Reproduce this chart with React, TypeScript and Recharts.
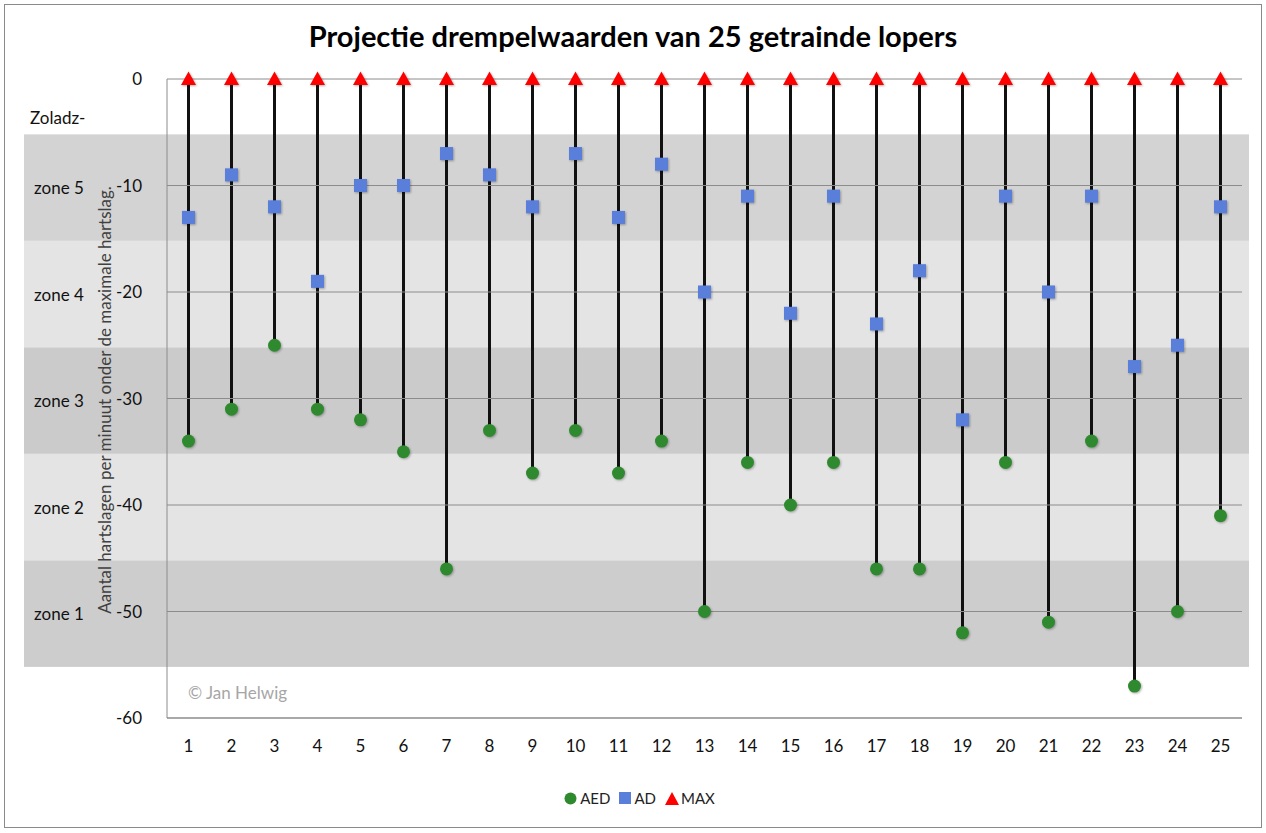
import React from 'react';
import { ComposedChart, Bar, Scatter, XAxis, YAxis, ReferenceArea, ReferenceLine, Legend } from 'recharts';

const runners = ['1','2','3','4','5','6','7','8','9','10','11','12','13','14','15','16','17','18','19','20','21','22','23','24','25'];
const aedValues = [-34,-31,-25,-31,-32,-35,-46,-33,-37,-33,-37,-34,-50,-36,-40,-36,-46,-46,-52,-36,-51,-34,-57,-50,-41];
const adValues = [-13,-9,-12,-19,-10,-10,-7,-9,-12,-7,-13,-8,-20,-11,-22,-11,-23,-18,-32,-11,-20,-11,-27,-25,-12];
const maxValues = [0,0,0,0,0,0,0,0,0,0,0,0,0,0,0,0,0,0,0,0,0,0,0,0,0];
const yTicks = [0,-10,-20,-30,-40,-50,-60];
const zoneNames = ['zone 5','zone 4','zone 3','zone 2','zone 1'];
const zoneTops = [-5.2,-15.2,-25.2,-35.2,-45.2];
const zoneBottoms = [-15.2,-25.2,-35.2,-45.2,-55.2];
const zoneFills = ['#d3d3d3','#e4e4e4','#cbcbcb','#e4e4e4','#cdcdcd'];

const data = runners.map((r, i) => ({
  runner: r,
  aed: aedValues[i],
  ad: adValues[i],
  max: maxValues[i],
  stem: [aedValues[i], maxValues[i]],
}));

const FONT = 'Lato, "Open Sans", sans-serif';
const GREEN = '#2f8a2f';
const BLUE = '#5a7fdb';
const RED = '#ff0000';
const BAND_LEFT = 24;
const BAND_RIGHT = 1249;
const SHADOW = { filter: 'drop-shadow(1px 1.5px 1px rgba(0,0,0,0.3))' };

const CircleShape = (p: any) => <circle cx={p.cx} cy={p.cy} r={6.5} fill={GREEN} style={SHADOW} />;
const SquareShape = (p: any) => <rect x={p.cx - 6.5} y={p.cy - 6.5} width={13} height={13} fill={BLUE} style={SHADOW} />;
const TriangleShape = (p: any) => (
  <path d={`M${p.cx},${p.cy - 7.5} L${p.cx + 7.5},${p.cy + 6} L${p.cx - 7.5},${p.cy + 6} Z`} fill={RED} style={SHADOW} />
);

const makeBand = (idx: number) => (p: any) => (
  <g>
    <rect x={BAND_LEFT} y={p.y} width={BAND_RIGHT - BAND_LEFT} height={p.height} fill={zoneFills[idx]} />
    <text x={59} y={p.y + p.height / 2} textAnchor="middle" dominantBaseline="central" fontFamily={FONT} fontSize={17} fill="#111">
      {zoneNames[idx]}
    </text>
    {idx === 0 && (
      <text x={30} y={p.y - 17} dominantBaseline="central" fontFamily={FONT} fontSize={17} fill="#111">Zoladz-</text>
    )}
  </g>
);

const LegendContent = () => (
  <div style={{ display: 'flex', justifyContent: 'center', alignItems: 'center', fontFamily: FONT, fontSize: 15, color: '#222', gap: 9, marginLeft: -10 }}>
    <span style={{ display: 'flex', alignItems: 'center' }}>
      <svg width={13} height={13}><circle cx={6.5} cy={6.5} r={6} fill={GREEN} /></svg>
      <span style={{ marginLeft: 3 }}>AED</span>
    </span>
    <span style={{ display: 'flex', alignItems: 'center' }}>
      <svg width={12} height={12}><rect x={0} y={0} width={12} height={12} fill={BLUE} /></svg>
      <span style={{ marginLeft: 3 }}>AD</span>
    </span>
    <span style={{ display: 'flex', alignItems: 'center' }}>
      <svg width={14} height={13}><path d="M7,0 L14,13 L0,13 Z" fill={RED} /></svg>
      <span style={{ marginLeft: 2 }}>MAX</span>
    </span>
  </div>
);

const CopyrightLabel = (p: any) => {
  const vb = p.viewBox || {};
  return (
    <text x={(vb.x || 0) + 21} y={vb.y} dominantBaseline="central" fontFamily={FONT} fontSize={17} fill="#a6a6a6">
      © Jan Helwig
    </text>
  );
};

const YTitle = () => {
  const cy = 400;
  const cx = 104;
  return (
    <text x={cx} y={cy} transform={`rotate(-90 ${cx} ${cy})`} textAnchor="middle" dominantBaseline="central" fontFamily={FONT} fontSize={17} fill="#404040">
      Aantal hartslagen per minuut onder de maximale hartslag.
    </text>
  );
};

export default function App() {
  return (
    <div style={{ position: 'absolute', left: 0, top: 0, width: 1266, height: 833, background: '#fff' }}>
      <div style={{ position: 'absolute', left: 4, top: 4, width: 1256, height: 822, border: '1px solid #8a8a8a' }} />
      <div style={{ position: 'absolute', left: 0, top: 18, width: 1266, textAlign: 'center', fontFamily: FONT, fontWeight: 700, fontSize: 29, color: '#000' }}>
        Projectie drempelwaarden van 25 getrainde lopers
      </div>
      <div style={{ position: 'absolute', left: 0, top: 0 }}>
        <ComposedChart width={1266} height={833} data={data} margin={{ top: 79, right: 24, left: 47, bottom: 22 }}>
          {zoneNames.map((z, i) => (
            <ReferenceArea key={z} y1={zoneTops[i]} y2={zoneBottoms[i]} ifOverflow="visible" shape={makeBand(i)} />
          ))}
          {yTicks.map((t) => (
            <ReferenceLine key={t} y={t} stroke="#8c8c8c" strokeWidth={1} />
          ))}
          <ReferenceLine y={-57.6} stroke="none" label={<CopyrightLabel />} />
          <XAxis
            dataKey="runner"
            height={71}
            tickLine={false}
            axisLine={{ stroke: '#8c8c8c' }}
            tick={{ fontFamily: FONT, fontSize: 17, fill: '#111' }}
            tickMargin={16}
          />
          <YAxis
            type="number"
            domain={[-60, 0]}
            ticks={yTicks}
            width={120}
            tickLine={false}
            axisLine={{ stroke: '#8c8c8c' }}
            tick={{ fontFamily: FONT, fontSize: 17, fill: '#111' }}
            tickMargin={19}
            label={<YTitle />}
          />
          <Legend verticalAlign="bottom" height={22} content={<LegendContent />} />
          <Bar dataKey="stem" barSize={3} fill="#111" legendType="none" isAnimationActive={false} />
          <Scatter dataKey="aed" name="AED" shape={CircleShape} isAnimationActive={false} />
          <Scatter dataKey="ad" name="AD" shape={SquareShape} isAnimationActive={false} />
          <Scatter dataKey="max" name="MAX" shape={TriangleShape} isAnimationActive={false} />
        </ComposedChart>
      </div>
    </div>
  );
}
